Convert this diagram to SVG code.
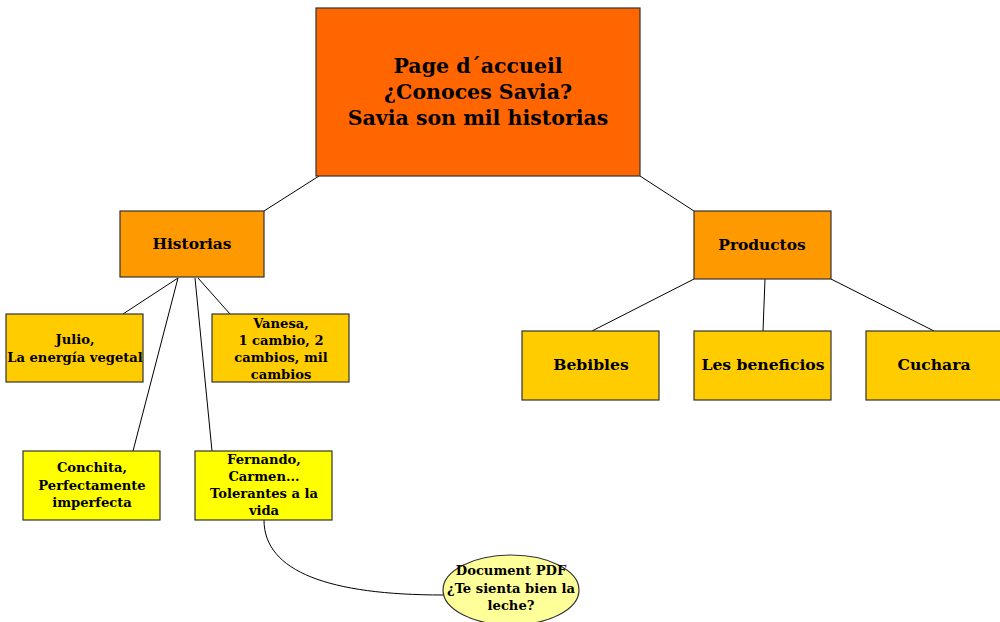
<svg xmlns="http://www.w3.org/2000/svg" width="1000" height="622" viewBox="0 0 1000 622">
<style>
.box{stroke:#333;stroke-width:1.2}
.t{font-family:"DejaVu Serif","Liberation Serif",serif;font-weight:bold;fill:#000;text-anchor:middle}
.c{stroke:#000;stroke-width:1;fill:none}
</style>
<rect width="1000" height="622" fill="#fff"/>
<g id="connectors">
<line class="c" x1="319" y1="176" x2="264" y2="211"/>
<line class="c" x1="640" y1="176" x2="694" y2="211"/>
<line class="c" x1="178" y1="278" x2="123" y2="314"/>
<line class="c" x1="178" y1="278" x2="133" y2="451"/>
<line class="c" x1="195" y1="278" x2="212" y2="451"/>
<line class="c" x1="198" y1="278" x2="230" y2="314"/>
<line class="c" x1="694" y1="279" x2="592" y2="331"/>
<line class="c" x1="765" y1="279" x2="763" y2="331"/>
<line class="c" x1="831" y1="279" x2="934" y2="331"/>
<path class="c" d="M264,520 C264,572 330,595 443,595"/>
</g>
<g id="root">
<rect class="box" x="316" y="8" width="324" height="168" fill="#FF6600"/>
<text class="t" font-size="20.5" x="478" y="73">Page d´accueil</text>
<text class="t" font-size="20.5" x="478" y="99">¿Conoces Savia?</text>
<text class="t" font-size="20.5" x="478" y="125">Savia son mil historias</text>
</g>
<g id="historias">
<rect class="box" x="120" y="211" width="144" height="66" fill="#FF9900"/>
<text class="t" font-size="15.4" x="192" y="249">Historias</text>
</g>
<g id="productos">
<rect class="box" x="694" y="211" width="137" height="68" fill="#FF9900"/>
<text class="t" font-size="15.4" x="762" y="250">Productos</text>
</g>
<g id="julio">
<rect class="box" x="6" y="314" width="137" height="68" fill="#FFCC00"/>
<text class="t" font-size="13.1" x="75" y="344">Julio,</text>
<text class="t" font-size="13.1" x="75" y="362">La energía vegetal</text>
</g>
<g id="vanesa">
<rect class="box" x="212" y="314" width="137" height="68" fill="#FFCC00"/>
<text class="t" font-size="13.1" x="281" y="328">Vanesa,</text>
<text class="t" font-size="13.1" x="281" y="345">1 cambio, 2</text>
<text class="t" font-size="13.1" x="281" y="362">cambios, mil</text>
<text class="t" font-size="13.1" x="281" y="379">cambios</text>
</g>
<g id="conchita">
<rect class="box" x="23" y="451" width="137" height="69" fill="#FFFF00"/>
<text class="t" font-size="13.1" x="92" y="472">Conchita,</text>
<text class="t" font-size="13.1" x="92" y="490">Perfectamente</text>
<text class="t" font-size="13.1" x="92" y="507">imperfecta</text>
</g>
<g id="fernando">
<rect class="box" x="195" y="451" width="137" height="69" fill="#FFFF00"/>
<text class="t" font-size="13.1" x="264" y="464">Fernando,</text>
<text class="t" font-size="13.1" x="264" y="481">Carmen...</text>
<text class="t" font-size="13.1" x="264" y="498">Tolerantes a la</text>
<text class="t" font-size="13.1" x="264" y="515">vida</text>
</g>
<g id="bebibles">
<rect class="box" x="522" y="331" width="137" height="69" fill="#FFCC00"/>
<text class="t" font-size="15.6" x="591" y="370">Bebibles</text>
</g>
<g id="beneficios">
<rect class="box" x="694" y="331" width="137" height="69" fill="#FFCC00"/>
<text class="t" font-size="15.6" x="763" y="370">Les beneficios</text>
</g>
<g id="cuchara">
<rect class="box" x="866" y="331" width="137" height="69" fill="#FFCC00"/>
<text class="t" font-size="15.6" x="934" y="370">Cuchara</text>
</g>
<g id="pdf">
<ellipse class="box" cx="511" cy="590" rx="68" ry="35" fill="#FFFF99"/>
<text class="t" font-size="13.1" x="511" y="575">Document PDF</text>
<text class="t" font-size="13.1" x="511" y="593">¿Te sienta bien la</text>
<text class="t" font-size="13.1" x="511" y="610">leche?</text>
</g>
</svg>
